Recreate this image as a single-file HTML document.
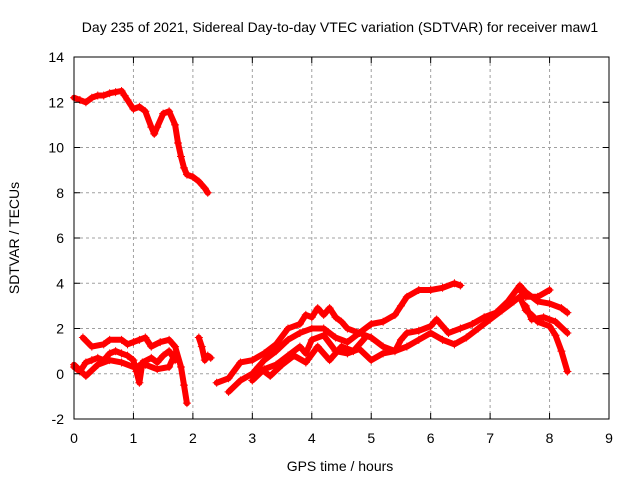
<!DOCTYPE html>
<html><head><meta charset="utf-8"><style>
body{margin:0;background:#fff}
svg{display:block;font-family:"Liberation Sans",sans-serif}
</style></head><body>
<svg id="chart" width="640" height="480" viewBox="0 0 640 480" xmlns="http://www.w3.org/2000/svg">
<rect width="640" height="480" fill="#fff"/>
<text x="340" y="32" font-size="14" text-anchor="middle">Day 235 of 2021, Sidereal Day-to-day VTEC variation (SDTVAR) for receiver maw1</text>
<text x="340" y="471" font-size="14" text-anchor="middle">GPS time / hours</text>
<text transform="translate(19,238) rotate(-90)" font-size="14" text-anchor="middle">SDTVAR / TECUs</text>
<g id="grid"></g>
<g id="marks"></g>
<rect x="74" y="57" width="535" height="362" fill="none" stroke="#000" stroke-width="1"/>
<g id="ticks"></g>
</svg>
<script>
const xTicks=[0,1,2,3,4,5,6,7,8,9];
const yTicks=[-2,0,2,4,6,8,10,12,14];
const aX=[0,0.1,0.2,0.3,0.4,0.5,0.6,0.7,0.8,0.85,0.9,1.0,1.1,1.2,1.3,1.35,1.4,1.5,1.6,1.7,1.75,1.8,1.85,1.9,2.0,2.1,2.2,2.25];
const aY=[12.2,12.1,12.0,12.2,12.3,12.3,12.4,12.45,12.5,12.3,12.1,11.7,11.8,11.6,10.9,10.6,10.9,11.5,11.6,11.0,10.2,9.6,9.1,8.8,8.7,8.5,8.2,8.0];
const bX=[0.15,0.3,0.5,0.6,0.8,0.9,1.0,1.1,1.2,1.3,1.45,1.6,1.7,1.8,1.85,1.9];
const bY=[1.6,1.2,1.3,1.5,1.5,1.3,1.4,1.5,1.6,1.2,1.4,1.5,1.2,0.3,-0.5,-1.3];
const cX=[0,0.1,0.2,0.3,0.4,0.5,0.6,0.7,0.8,0.9,1.0,1.05,1.1,1.15,1.3,1.4,1.5,1.6,1.7];
const cY=[0.3,0.1,0.5,0.6,0.7,0.6,0.9,1.0,0.9,0.8,0.6,0.1,-0.4,0.5,0.7,0.5,0.8,1.0,0.6];
const dX=[0,0.2,0.4,0.6,0.8,1.0,1.2,1.4,1.6,1.7];
const dY=[0.4,-0.1,0.4,0.6,0.5,0.3,0.4,0.2,0.3,0.9];
const eX=[2.1,2.15,2.2,2.25,2.3];
const eY=[1.6,1.2,0.6,0.8,0.7];
const fX=[2.4,2.6,2.8,3.0,3.2,3.4,3.6,3.8,3.9,4.0,4.1,4.2,4.3,4.4,4.5,4.6,4.8,5.0,5.2,5.4,5.5,5.6,5.8,6.0,6.2,6.4,6.5];
const fY=[-0.4,-0.2,0.5,0.6,0.9,1.3,2.0,2.2,2.6,2.5,2.9,2.6,2.9,2.5,2.3,2.0,1.8,2.2,2.3,2.6,3.0,3.4,3.7,3.7,3.8,4.0,3.9];
const gX=[2.6,2.8,3.0,3.2,3.4,3.6,3.8,4.0,4.2,4.4,4.6,4.8,5.0,5.2,5.4,5.5,5.6,5.8,6.0,6.1,6.2,6.3,6.5,6.7,6.9,7.1,7.3,7.5,7.6,7.8,8.0,8.2,8.3];
const gY=[-0.8,-0.3,0.0,0.6,1.0,1.5,1.8,2.0,2.0,1.6,1.4,1.8,1.6,1.2,1.0,1.5,1.8,1.9,2.1,2.4,2.1,1.8,2.0,2.2,2.5,2.7,3.2,3.9,3.6,3.2,3.1,2.9,2.7];
const hX=[3.0,3.2,3.4,3.6,3.8,3.9,4.0,4.2,4.4,4.6,4.8,5.0,5.2,5.4,5.6,5.8,6.0,6.2,6.4,6.6,6.8,7.0,7.2,7.4,7.5,7.6,7.7,7.8,8.0,8.1,8.2,8.3];
const hY=[-0.3,0.2,0.4,0.8,1.2,0.9,1.5,1.7,1.0,0.9,1.1,0.6,0.9,1.0,1.2,1.5,1.8,1.5,1.3,1.6,2.0,2.4,2.8,3.2,3.4,2.8,2.6,2.3,2.1,1.7,1.0,0.1];
const iX=[3.1,3.3,3.5,3.7,3.9,4.1,4.3,4.5,4.7,4.9];
const iY=[0.3,-0.1,0.4,0.8,0.5,1.2,0.6,1.2,1.0,1.6];
const jX=[7.5,7.6,7.8,8.0];
const jY=[3.7,3.4,3.4,3.7];
const kX=[7.6,7.7,7.9,8.1,8.3];
const kY=[3.0,2.4,2.5,2.3,1.8];
const series=[[aX,aY],[bX,bY],[cX,cY],[dX,dY],[eX,eY],[fX,fY],[gX,gY],[hX,hY],[iX,iY],[jX,jY],[kX,kY]];
const X0=74,X1=609,Y0=419,Y1=57;
const sx=v=>X0+(v-0)/9*(X1-X0);
const sy=v=>Y0-(v+2)/16*(Y0-Y1);
const NS="http://www.w3.org/2000/svg";
const grid=document.getElementById('grid'),ticks=document.getElementById('ticks'),marks=document.getElementById('marks');
function mk(tag,attrs,parent){const e=document.createElementNS(NS,tag);for(const k in attrs)e.setAttribute(k,attrs[k]);parent.appendChild(e);return e;}
xTicks.forEach(t=>{
  const x=sx(t);
  if(t>0&&t<9){const g=mk('line',{x1:x,y1:Y1,x2:x,y2:Y0,stroke:'#a0a0a0','stroke-dasharray':'3,3'},grid);
  
  }
  mk('line',{x1:x,y1:Y0,x2:x,y2:Y0-6,stroke:'#000'},ticks);
  mk('line',{x1:x,y1:Y1,x2:x,y2:Y1+6,stroke:'#000'},ticks);
  const l=mk('text',{x:x,y:Y0+24,'font-size':14,'text-anchor':'middle'},ticks);l.textContent=t;
  
  
});
yTicks.forEach(t=>{
  const y=sy(t);
  if(t>-2&&t<14){const g=mk('line',{x1:X0,y1:y,x2:X1,y2:y,stroke:'#a0a0a0','stroke-dasharray':'3,3'},grid);
  
  }
  mk('line',{x1:X0,y1:y,x2:X0+6,y2:y,stroke:'#000'},ticks);
  mk('line',{x1:X1,y1:y,x2:X1-6,y2:y,stroke:'#000'},ticks);
  const l=mk('text',{x:X0-10,y:y+5,'font-size':14,'text-anchor':'end'},ticks);l.textContent=t;
  
  
});
series.forEach(([xs,ys])=>{
  const pts=xs.map((x,i)=>sx(x).toFixed(1)+','+sy(ys[i]).toFixed(1)).join(' ');
  const p=mk('polyline',{points:pts,fill:'none',stroke:'#f00','stroke-width':6,'stroke-linejoin':'round','stroke-linecap':'round'},marks);
  
  
  xs.forEach((x,i)=>{
    const cx=sx(x),cy=sy(ys[i]);
    const m=mk('path',{d:`M${cx-4},${cy}H${cx+4}M${cx},${cy-4}V${cy+4}`,stroke:'#f00','stroke-width':1},marks);
    
    
  });
});
</script>
</body></html>
